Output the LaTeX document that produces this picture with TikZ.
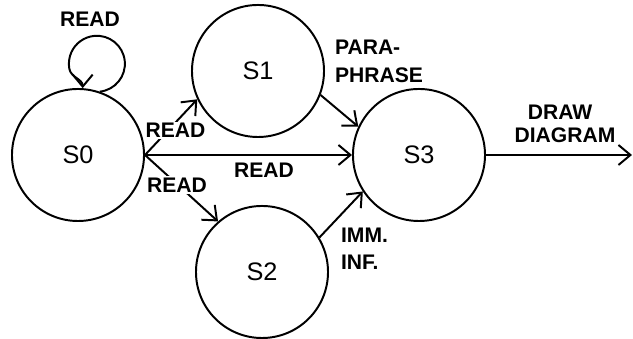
\documentclass[tikz,border=0pt]{standalone}
\usepackage{fontspec}
\setmainfont{Liberation Sans}
\usetikzlibrary{arrows.meta}
\tikzset{
	state/.style={draw, circle, line width=1.4pt, minimum size=3.3cm, inner sep=0pt, font=\fontsize{18}{18}\selectfont},
	lbl/.style={font=\bfseries\fontsize{15}{19.5}\selectfont, inner sep=1pt, align=left},
	trans/.style={line width=1.4pt, -{Straight Barb[length=0.3cm, width=0.5cm, line width=1.4pt]}}
}

\begin{document}
\begin{tikzpicture}[x=0.025cm, y=0.025cm]
			%%%%% START %%%%%
			\useasboundingbox (0,0) rectangle (633,339);
			
			% states
			\node[state] (s0) at (78,184) {S0};
			\node[state] (s1) at (258,268) {S1};
			\node[state] (s2) at (262,67) {S2};
			\node[state] (s3) at (419,184) {S3};
			\coordinate (out) at (632,184);
			
			% transitions
			\draw[trans] (s0.71) arc[start angle=-84, end angle=190, radius=0.7cm] to[out=-80, in=90] (s0.86);
			\draw[trans] (s0.east) -- (s1.205);
			\draw[trans] (s0.east) -- (s2.131);
			\draw[trans] (s0.east) -- (s3.west);
			\draw[trans] (s1.-21) -- (s3.155);
			\draw[trans] (s2.31) -- (s3.213);
			\draw[trans] (s3.east) -- (out);
			
			% labels
			\node[lbl] (rloop) at (90,319.5) {READ};
			\node[lbl, fill=white] (rup) at (175.5,208.5) {READ};
			\node[lbl, fill=white] (rdown) at (177,154) {READ};
			\node[lbl] (rmid) at (264,169) {READ};
			\node[lbl] (para) at (379,277.5) {PARA-\\PHRASE};
			\node[lbl] (imm) at (364.5,90) {IMM.\\INF.};
			\node[lbl] (draw) at (565,215) {\hspace*{0.33cm}DRAW\\[-3.2pt]DIAGRAM};
			
			%%%%% END %%%%%
\end{tikzpicture}
\end{document}
